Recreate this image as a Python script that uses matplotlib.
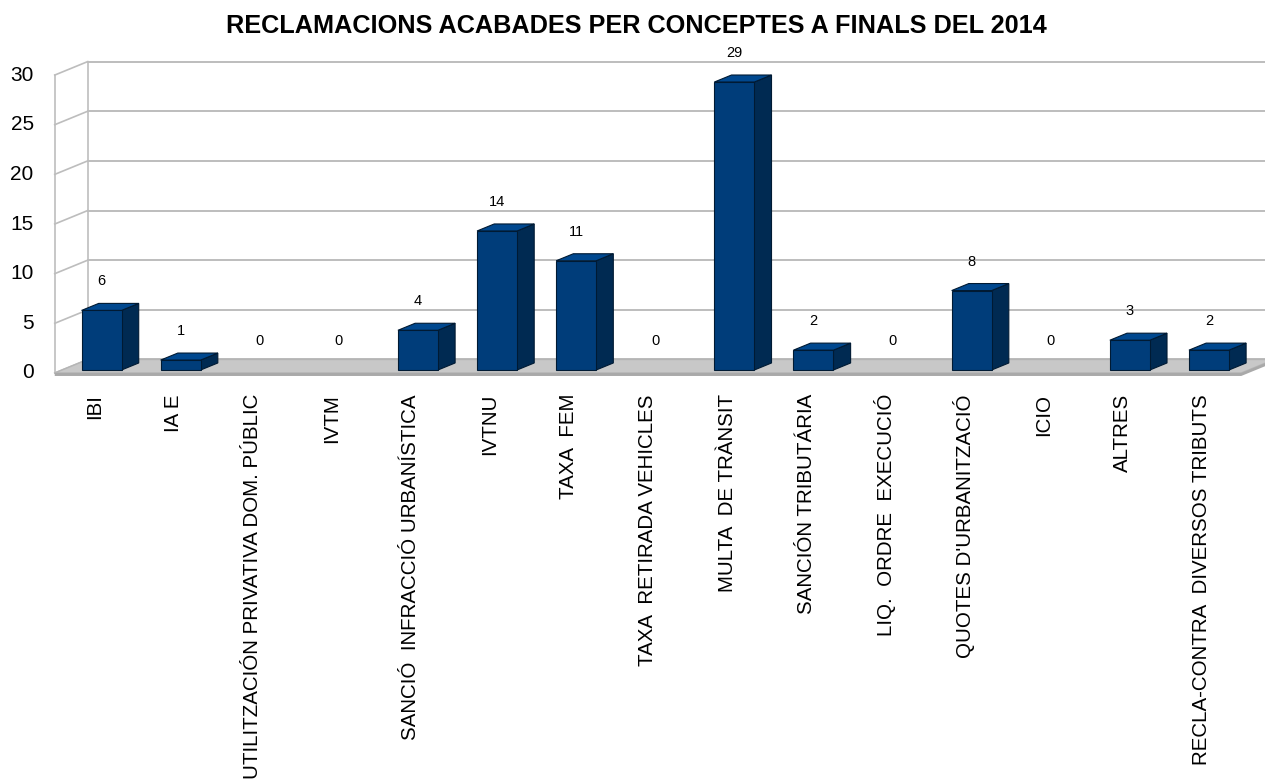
import matplotlib
matplotlib.use("Agg")
import matplotlib.pyplot as plt
from matplotlib.patches import Polygon
import numpy as np

# ---------------- data ----------------
categories = [
    "IBI", "IA E", "UTILITZACIÓN PRIVATIVA DOM. PÚBLIC", "IVTM",
    "SANCIÓ  INFRACCIÓ URBANÍSTICA", "IVTNU", "TAXA  FEM",
    "TAXA  RETIRADA VEHICLES", "MULTA  DE TRÀNSIT", "SANCIÓN TRIBUTÁRIA",
    "LIQ.  ORDRE  EXECUCIÓ", "QUOTES D'URBANITZACIÓ", "ICIO", "ALTRES",
    "RECLA-CONTRA  DIVERSOS TRIBUTS",
]
values = [6, 1, 0, 0, 4, 14, 11, 0, 29, 2, 0, 8, 0, 3, 2]
yticks = [0, 5, 10, 15, 20, 25, 30]
title = "RECLAMACIONS ACABADES PER CONCEPTES A FINALS DEL 2014"

# ---------------- style / layout ----------------
plt.rcParams['font.family'] = ['Liberation Sans', 'DejaVu Sans']
W, H = 1265, 780
fig = plt.figure(figsize=(W / 100, H / 100), dpi=100)
ax = fig.add_axes([0, 0, 1, 1])
ax.set_axis_off()

px_per_cat = 79.1
px_per_val = 9.93
x0_px = 62.0      # pixel of left edge (category -0.5) in bar plane
y0_px = 370.0     # pixel of value 0 in bar plane
ax.set_xlim((0 - x0_px) / px_per_cat - 0.5, (W - x0_px) / px_per_cat - 0.5)
ax.set_ylim((y0_px - H) / px_per_val, (y0_px - 0) / px_per_val)

# depth of the whole "box" in data units
DX = 33.0 / px_per_cat
DY = 13.5 / px_per_val
f_front, f_back = -0.22, 0.78
bar_depth = 0.52
bar_w = 40.0 / px_per_cat

n = len(categories)
xl, xr = -0.5, n - 0.5
top = yticks[-1]

grid_c = "#bdbdbd"
# back wall
ax.add_patch(Polygon([(xl + f_back * DX, f_back * DY), (xr + f_back * DX, f_back * DY),
                      (xr + f_back * DX, top + f_back * DY), (xl + f_back * DX, top + f_back * DY)],
                     closed=True, facecolor="white", edgecolor="none", zorder=0))
# left wall outline
ax.plot([xl + f_front * DX, xl + f_front * DX], [f_front * DY, top + f_front * DY], color=grid_c, lw=1.2, zorder=1)
ax.plot([xl + f_back * DX, xl + f_back * DX], [f_back * DY, top + f_back * DY], color=grid_c, lw=1.2, zorder=1)
for k in yticks:
    ax.plot([xl + f_back * DX, xr + f_back * DX], [k + f_back * DY, k + f_back * DY],
            color=grid_c, lw=1.4, zorder=1)
    ax.plot([xl + f_front * DX, xl + f_front * DX + DX], [k + f_front * DY, k + f_front * DY + DY],
            color=grid_c, lw=1.2, zorder=1)
    ax.text(xl + f_front * DX - 21.0 / px_per_cat, k + f_front * DY, str(k),
            ha="right", va="center", fontsize=15, color="black")

# floor
ax.add_patch(Polygon([(xl + f_front * DX, f_front * DY), (xr + f_front * DX, f_front * DY),
                      (xr + f_back * DX, f_back * DY), (xl + f_back * DX, f_back * DY)],
                     closed=True, facecolor="#c8c8c8", edgecolor="#b5b5b5", lw=1.0, zorder=2))
thick = 3.0 / px_per_val
ax.add_patch(Polygon([(xl + f_front * DX, f_front * DY), (xr + f_front * DX, f_front * DY),
                      (xr + f_back * DX, f_back * DY), (xr + f_back * DX, f_back * DY - thick),
                      (xr + f_front * DX, f_front * DY - thick), (xl + f_front * DX, f_front * DY - thick)],
                     closed=True, facecolor="#a9a9a9", edgecolor="none", zorder=2))

# bars
front_c, side_c, top_c, edge_c = "#003d7a", "#002a52", "#00488f", "#001a33"
bdx, bdy = bar_depth * DX, bar_depth * DY
xs = np.arange(n)
for i, v in zip(xs, values):
    if v <= 0:
        continue
    L, R = i - bar_w / 2, i + bar_w / 2
    ax.add_patch(Polygon([(R, 0), (R + bdx, bdy), (R + bdx, v + bdy), (R, v)],
                         closed=True, facecolor=side_c, edgecolor=edge_c, lw=0.8, zorder=3))
    ax.add_patch(Polygon([(L, v), (L + bdx, v + bdy), (R + bdx, v + bdy), (R, v)],
                         closed=True, facecolor=top_c, edgecolor=edge_c, lw=0.8, zorder=3))
lws = [0.8 if v > 0 else 0 for v in values]
ax.bar(xs, values, width=bar_w, bottom=0, color=front_c, edgecolor=edge_c, linewidth=lws, zorder=4)

# value labels
for i, v in zip(xs, values):
    ax.text(i, v + bdy + 22.0 / px_per_val, str(v), ha="center", va="center",
            fontsize=10.5, color="black", zorder=5)

# category labels
for i, c in zip(xs, categories):
    ax.text(i + f_front * DX, -24.0 / px_per_val, c, rotation=90, ha="center", va="top",
            fontsize=14.8, color="black")

fig.text(636 / W, 1 - 26 / H, title, ha="center", va="center", fontsize=18.2,
         fontweight="bold", color="black")

fig.savefig("out.png", dpi=100)
